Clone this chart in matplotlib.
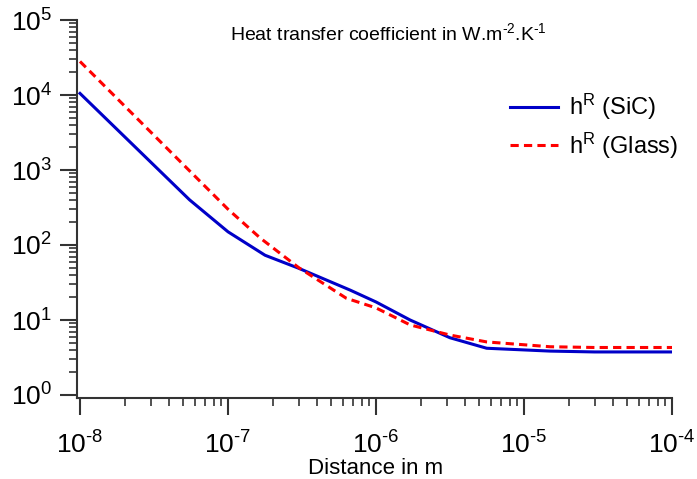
import numpy as np
import matplotlib
matplotlib.use("Agg")
import matplotlib.pyplot as plt
from matplotlib.ticker import LogLocator, FixedLocator

plt.rcParams['font.family'] = ['Liberation Sans', 'DejaVu Sans']
plt.rcParams['mathtext.fontset'] = 'custom'
plt.rcParams['mathtext.rm'] = 'Liberation Sans'
plt.rcParams['mathtext.default'] = 'regular'

# distance in m
dist_sic = [1e-8, 5.5e-8, 1e-7, 1.78e-7, 3e-7, 6.7e-7, 1e-6, 1.7e-6, 3.16e-6, 5.6e-6, 1.5e-5, 3e-5, 1e-4]
h_sic = [1.05e4, 400, 150, 73, 49, 25, 17.4, 10, 5.8, 4.2, 3.85, 3.75, 3.75]

dist_glass = [1e-8, 1e-7, 1.65e-7, 3e-7, 6.3e-7, 1e-6, 1.7e-6, 3.16e-6, 5.6e-6, 1.5e-5, 3e-5, 1e-4]
h_glass = [2.8e4, 300, 124, 50, 19.5, 14.5, 8.6, 6.3, 5.1, 4.4, 4.3, 4.3]

x_ticks = [1e-8, 1e-7, 1e-6, 1e-5, 1e-4]
y_ticks = [1e0, 1e1, 1e2, 1e3, 1e4, 1e5]

fig = plt.figure(figsize=(6.97, 4.79), dpi=100)
ax = fig.add_axes([77 / 697, 1 - 398 / 479, (672 - 77) / 697, (398 - 20) / 479])

ax.plot(dist_sic, h_sic, color='#0000c8', lw=2.2, label=r'h$^{R}$ (SiC)')
ax.plot(dist_glass, h_glass, color='#ff0000', lw=2.2, ls=(0, (2.7, 1.7)), label=r'h$^{R}$ (Glass)')

ax.set_xscale('log')
ax.set_yscale('log')
ax.set_xlim(10 ** (-8 - 3 / 148), 1e-4)
ax.set_ylim(10 ** (-3 / 75), 1e5)

ax.xaxis.set_major_locator(FixedLocator(x_ticks))
ax.yaxis.set_major_locator(FixedLocator(y_ticks))
ax.xaxis.set_minor_locator(LogLocator(base=10, subs=np.arange(2, 10), numticks=20))
ax.yaxis.set_minor_locator(LogLocator(base=10, subs=np.arange(2, 10), numticks=20))
ax.set_xticklabels([r'$10^{\text{%d}}$' % round(np.log10(v)) for v in x_ticks])
ax.set_yticklabels([r'$10^{\text{%d}}$' % round(np.log10(v)) for v in y_ticks])

for s in ['top', 'right']:
    ax.spines[s].set_visible(False)
for s in ['left', 'bottom']:
    ax.spines[s].set_linewidth(1.5)
    ax.spines[s].set_color('#333333')

ax.tick_params(which='major', length=12, width=1.5, color='#333333', labelsize=19)
ax.tick_params(which='minor', length=6, width=1.2, color='#333333')
ax.tick_params(axis='x', which='major', pad=12)
ax.tick_params(axis='y', which='major', pad=6)

fig.text(376 / 697, 1 - 474 / 479, 'Distance in m', fontsize=16, ha='center', va='baseline')

fig.text(0.557, 0.931, r'Heat transfer coefficient in W.m$^{\text{-2}}$.K$^{\text{-1}}$',
         fontsize=14, ha='center', va='center')

ax.legend(loc='upper right', bbox_to_anchor=(1.047, 0.866), frameon=False, fontsize=17,
          handlelength=2.0, handletextpad=0.5, labelspacing=0.35)

fig.savefig('out.png', dpi=100)
